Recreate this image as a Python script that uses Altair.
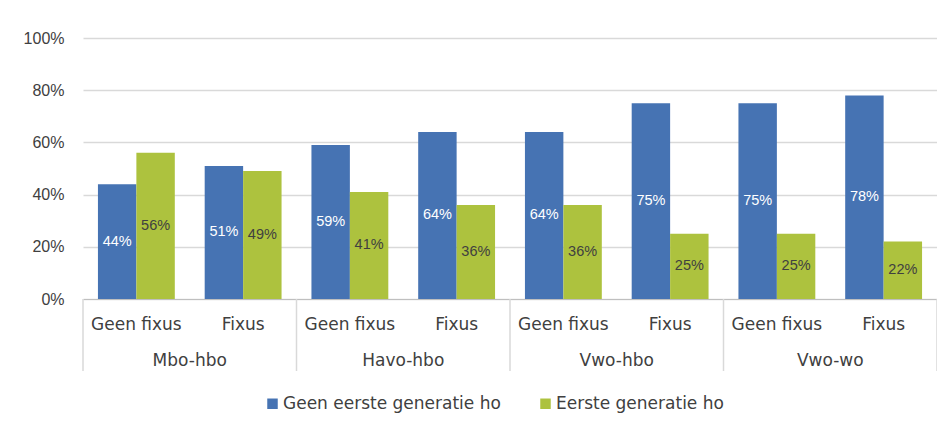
import altair as alt
import pandas as pd

groups = ["Mbo-hbo", "Havo-hbo", "Vwo-hbo", "Vwo-wo"]
subs = ["Geen fixus", "Fixus"]
series_names = ["Geen eerste generatie ho", "Eerste generatie ho"]
blue_values = [44, 51, 59, 64, 64, 75, 75, 78]
green_values = [56, 49, 41, 36, 36, 25, 25, 22]
y_ticks = [0, 20, 40, 60, 80, 100]

BLUE = "#4673b3"
GREEN = "#adc23e"
TXT = "#404040"
FONT = "DejaVu Sans"
NUM_FONT = "Liberation Sans"

rows = []
i = 0
for g in groups:
    for s in subs:
        cat = f"{g}|{s}"
        rows.append(dict(group=g, sub=s, cat=cat, series=series_names[0], value=blue_values[i]))
        rows.append(dict(group=g, sub=s, cat=cat, series=series_names[1], value=green_values[i]))
        i += 1
df = pd.DataFrame(rows)
cat_order = [f"{g}|{s}" for g in groups for s in subs]
gdf = pd.DataFrame({"group": groups})
bdf = pd.DataFrame({"b": list(range(len(groups) + 1))})

band = alt.Scale(paddingInner=0.28, paddingOuter=0.14)
off = alt.XOffset("series:N", sort=series_names)

y_enc = alt.Y(
    "value:Q",
    scale=alt.Scale(domain=[0, 100], nice=False),
    title=None,
    axis=alt.Axis(
        values=y_ticks, labelExpr="datum.value + '%'", domain=False, ticks=False,
        labelPadding=19, labelFont=NUM_FONT, labelFontSize=16, labelColor=TXT,
        gridColor="#d9d9d9", gridWidth=1.5,
    ),
)

bars = alt.Chart(df).mark_bar().encode(
    x=alt.X(
        "cat:N", sort=cat_order, title=None, scale=band,
        axis=alt.Axis(
            labelExpr="split(datum.label, '|')[1]", labelAngle=0, ticks=False,
            domainColor="#bfbfbf", labelPadding=17, labelFont=FONT, labelFontSize=17,
            labelColor=TXT, grid=False,
        ),
    ),
    xOffset=off,
    y=y_enc,
    color=alt.Color(
        "series:N", sort=series_names,
        scale=alt.Scale(domain=series_names, range=[BLUE, GREEN]),
        legend=alt.Legend(
            orient="none", legendX=181, legendY=357, direction="horizontal", title=None,
            symbolType="square", symbolSize=110, symbolStrokeWidth=0,
            labelFont=FONT, labelFontSize=17, labelColor=TXT, labelLimit=0,
            columnPadding=36, labelOffset=2, padding=0,
        ),
    ),
)

labels = alt.Chart(df).transform_calculate(
    mid="datum.value / 2", lbl="datum.value + '%'"
).mark_text(font=NUM_FONT, fontSize=14.5, baseline="middle").encode(
    x=alt.X("cat:N", sort=cat_order, scale=band, axis=None),
    xOffset=off,
    y=alt.Y("mid:Q", title=None),
    text="lbl:N",
    color=alt.condition(alt.datum.series == series_names[0], alt.value("white"), alt.value(TXT)),
)

group_text = alt.Chart(gdf).mark_text(
    font=FONT, fontSize=17, color=TXT, baseline="middle"
).encode(
    x=alt.X("group:N", sort=groups, scale=alt.Scale(paddingInner=0, paddingOuter=0), axis=None),
    y=alt.value(323),
    text="group:N",
)

seps = alt.Chart(bdf).mark_rule(color="#d9d9d9", strokeWidth=1.5).encode(
    x=alt.X("b:Q", scale=alt.Scale(domain=[0, len(groups)], nice=False, zero=False), axis=None),
    y=alt.value(261),
    y2=alt.value(333),
)

chart = alt.layer(bars, labels, group_text, seps).resolve_scale(
    x="independent"
).properties(
    width=854, height=261,
    autosize=alt.AutoSizeParams(type="none"),
    padding={"left": 75, "top": 30, "right": 0, "bottom": 120},
).configure_view(stroke=None)

chart.save("out.html", embed_options={"renderer": "svg", "actions": False})
